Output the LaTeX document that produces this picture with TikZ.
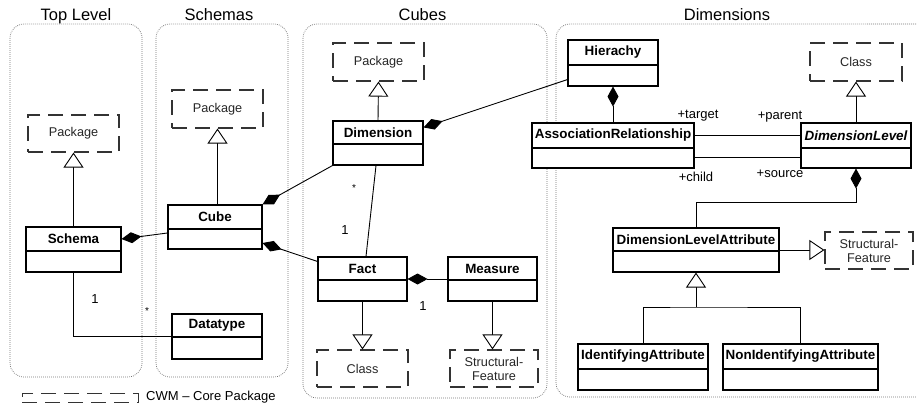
\documentclass[tikz,border=0pt]{standalone}
\usepackage{fontspec}
\setmainfont{Liberation Sans}
\usetikzlibrary{arrows.meta,calc}
\begin{document}
\begin{tikzpicture}[x=1pt,y=-1pt,
  panel/.style={draw=black!55, line width=0.7pt, dash pattern=on 0.8pt off 1.2pt, rounded corners=14pt},
  title/.style={font=\fontsize{16.5}{18}\selectfont, anchor=base, inner sep=0pt},
  clsbox/.style={draw, line width=1.1pt, inner sep=0pt, fill=white},
  clshead/.style={draw, line width=1.1pt, inner sep=0pt, anchor=north, font=\bfseries\fontsize{13.4}{15}\selectfont},
  extbox/.style={draw=black!80, line width=1.2pt, dash pattern=on 15pt off 8pt, inner sep=0pt, align=center, font=\fontsize{12.7}{14}\selectfont, text=black!85},
  conn/.style={line width=0.9pt},
  comp/.style={conn, {Diamond[length=20pt,width=11pt]}-},
  gen/.style={conn, -{Triangle[length=15pt,width=20pt,fill=white,line width=0.9pt]}},
  lbl/.style={font=\fontsize{13}{14}\selectfont, inner sep=0pt},
  star/.style={font=\fontsize{10}{12}\selectfont, inner sep=0pt},
]
\useasboundingbox (0,0) rectangle (917,407);

% package panels
\draw[panel] (10,24) rectangle (142,377);
\draw[panel] (156,24) rectangle (288,377);
\draw[panel] (303,24) rectangle (547,398);
\draw[panel] (556,24) rectangle (940,397);

\node[title] (tTop) at (76,20) {Top Level};
\node[title] (tSch) at (219,20) {Schemas};
\node[title] (tCub) at (422.5,20) {Cubes};
\node[title] (tDim) at (727,20) {Dimensions};

% ---- Top Level ----
\node[extbox, minimum width=91pt, minimum height=37pt] (pkg1) at (73.5,133.5) {Package};
\node[clsbox, minimum width=95pt, minimum height=45pt] (schema) at (73.5,249.5) {};
\node[clshead, minimum width=95pt, minimum height=24pt] (schemaH) at (schema.north) {Schema};

% ---- Schemas ----
\node[extbox, minimum width=91pt, minimum height=38pt] (pkg2) at (217.5,109) {Package};
\node[clsbox, minimum width=94pt, minimum height=44pt] (cube) at (215,227) {};
\node[clshead, minimum width=94pt, minimum height=24pt] (cubeH) at (cube.north) {Cube};
\node[clsbox, minimum width=90pt, minimum height=45pt] (datatype) at (217,336.5) {};
\node[clshead, minimum width=90pt, minimum height=23pt] (datatypeH) at (datatype.north) {Datatype};

% ---- Cubes ----
\node[extbox, minimum width=91pt, minimum height=38pt] (pkg3) at (378.5,62) {Package};
\node[clsbox, minimum width=90pt, minimum height=44pt] (dimension) at (378,143) {};
\node[clshead, minimum width=90pt, minimum height=23pt] (dimensionH) at (dimension.north) {Dimension};
\node[clsbox, minimum width=89pt, minimum height=44pt] (fact) at (362.5,279) {};
\node[clshead, minimum width=89pt, minimum height=23pt] (factH) at (fact.north) {Fact};
\node[clsbox, minimum width=89pt, minimum height=44pt] (measure) at (492.5,279) {};
\node[clshead, minimum width=89pt, minimum height=23pt] (measureH) at (measure.north) {Measure};
\node[extbox, minimum width=91pt, minimum height=37pt] (class1) at (362.5,368.5) {Class};
\node[extbox, minimum width=88pt, minimum height=37pt] (sf1) at (494,368.5) {Structural-\\Feature};

% ---- Dimensions ----
\node[clsbox, minimum width=90pt, minimum height=46pt] (hierachy) at (613,63) {};
\node[clshead, minimum width=90pt, minimum height=25pt] (hierachyH) at (hierachy.north) {Hierachy};
\node[clsbox, minimum width=162pt, minimum height=45pt] (assoc) at (613,145.5) {};
\node[clshead, minimum width=162pt, minimum height=25pt] (assocH) at (assoc.north) {AssociationRelationship};
\node[clsbox, minimum width=110pt, minimum height=45pt] (dimlevel) at (856,145.5) {};
\node[clshead, minimum width=110pt, minimum height=25pt, font=\bfseries\itshape\fontsize{13.4}{15}\selectfont] (dimlevelH) at (dimlevel.north) {DimensionLevel};
\node[extbox, minimum width=92pt, minimum height=38pt] (class2) at (856,62) {Class};
\node[clsbox, minimum width=166pt, minimum height=44pt] (dla) at (696,250) {};
\node[clshead, minimum width=166pt, minimum height=23pt] (dlaH) at (dla.north) {DimensionLevelAttribute};
\node[extbox, minimum width=88pt, minimum height=37pt] (sf2) at (869,250.5) {Structural-\\Feature};
\node[clsbox, minimum width=130pt, minimum height=46pt] (ident) at (643,367) {};
\node[clshead, minimum width=130pt, minimum height=25pt] (identH) at (ident.north) {IdentifyingAttribute};
\node[clsbox, minimum width=155pt, minimum height=46pt] (nonident) at (800.5,367) {};
\node[clshead, minimum width=155pt, minimum height=25pt] (nonidentH) at (nonident.north) {NonIdentifyingAttribute};

% ---- connectors ----
\draw[gen] (schema.north) -- (pkg1.south);
\draw[comp] (schemaH.east) -- ($(cube.west)+(0,6)$);
\draw[conn] (schema.south) |- (datatype.west);
\node[lbl] (m1) at (95,299) {1};
\node[star] (m2) at (147,311) {*};

\draw[gen] (cube.north -| pkg2.south) -- (pkg2.south);
\draw[comp] (cube.north east) -- (dimension.south west);
\draw[comp] ($(cube.east)+(0,16)$) -- ($(fact.north west)+(0,5)$);

\draw[gen] (dimension.north) -- (pkg3.south);
\draw[comp] ($(dimension.north east)+(0,7)$) -- ($(hierachy.south west)+(0,-7)$);
\draw[conn] ($(dimension.south)+(-2,0)$) -- ($(fact.north)+(3.5,0)$);
\node[star] (m3) at (354,188) {*};
\node[lbl] (m4) at (345,230) {1};
\draw[comp] (fact.east) -- (measure.west);
\node[lbl] (m5) at (423,306) {1};
\draw[gen] (fact.south) -- (class1.north);
\draw[gen] (measure.south) -- (measure.south |- sf1.north);

\draw[comp] (hierachy.south) -- (assoc.north);
\draw[conn] (assocH.east) -- (dimlevelH.west);
\draw[conn] ($(assoc.south east)+(0,-11)$) -- ($(dimlevel.south west)+(0,-11)$);
\node[lbl] (r1) at (698,116) {+target};
\node[lbl] (r2) at (780,117) {+parent};
\node[lbl] (r3) at (696,177) {+child};
\node[lbl] (r4) at (780,174) {+source};
\draw[gen] (dimlevel.north) -- (class2.south);
\draw[comp] (dimlevel.south) -- ++(0,34) -| (dla.north);
\draw[gen] (dla.east) -- (dla.east -| sf2.west);
\coordinate (junc) at (696,307);
\draw[conn] (ident.north) |- (junc) -| (nonident.north);
\draw[gen] (junc) -- (dla.south);

% ---- legend ----
\node[draw=black!80, line width=1pt, dash pattern=on 15pt off 8pt, minimum width=116pt, minimum height=9pt, inner sep=0pt] (legend) at (80,397.5) {};
\node[lbl, anchor=west] (legendtxt) at (146,397.5) {CWM – Core Package};
\end{tikzpicture}
\end{document}
